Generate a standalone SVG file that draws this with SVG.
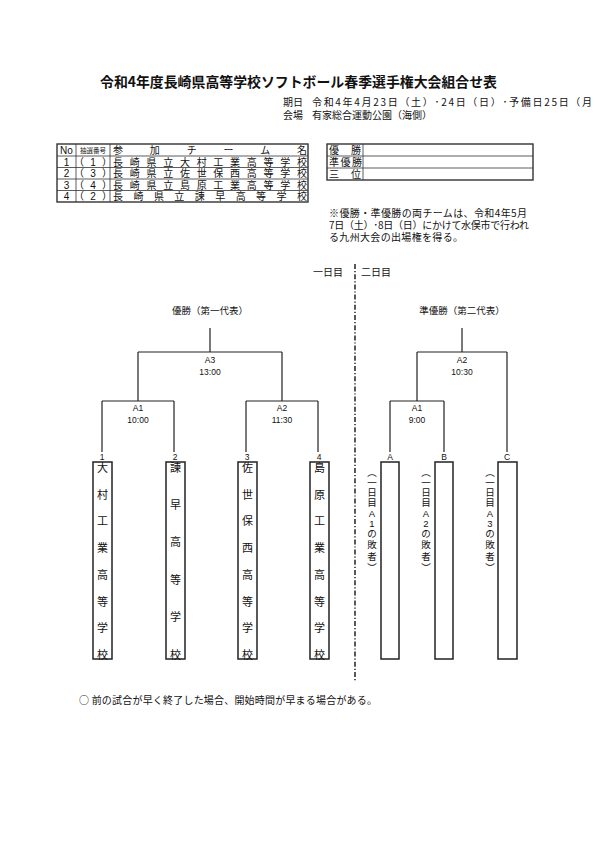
<svg xmlns="http://www.w3.org/2000/svg" width="595" height="842" viewBox="0 0 595 842">
<style>
text{font-family:"Liberation Sans","Noto Sans CJK JP",sans-serif;fill:#111}
.j{font-family:"Noto Sans CJK JP",sans-serif}
.title{font-size:14.2px;font-weight:bold}
.hd{font-size:10px}
.t{font-size:10px}
.sm{font-size:6.5px}
.lb{font-size:9.5px}
.tm{font-size:8.5px}
.vc{font-size:11px}
.vs{font-size:9.5px}
.m{text-anchor:middle}
.ln{stroke:#222;stroke-width:1.2;fill:none}
.bx{stroke:#222;stroke-width:1.5;fill:#fff}
.tb{stroke:#333;stroke-width:0.8;fill:none}
.tbo{stroke:#333;stroke-width:1.4;fill:none}
</style>
<rect width="595" height="842" fill="#fff"/>
<g id="header">
<text class="title j" x="100" y="87" textLength="397" lengthAdjust="spacingAndGlyphs">令和4年度長崎県高等学校ソフトボール春季選手権大会組合せ表</text>
<text class="hd j" x="283" y="106">期日</text>
<text class="hd j" x="312" y="106" textLength="280" lengthAdjust="spacing">令和4年4月23日（土）･24日（日）･予備日25日（月</text>
<text class="hd j" x="283" y="119">会場</text>
<text class="hd j" x="312" y="119">有家総合運動公園（海側）</text>
</g>
<g id="entry-table">
<rect class="tbo" x="57" y="144" width="251" height="58"/>
<path class="tb" d="M57 156H308M57 167.5H308M57 179H308M57 190.5H308M76 144V202M110 144V202"/>
<text class="t m" x="66.5" y="154">No</text>
<text class="sm j m" x="93" y="153">抽選番号</text>
<text class="t j" x="113" y="154" textLength="194" lengthAdjust="spacing">参加チーム名</text>
<g class="t j m">
<text x="79" y="165.5">（</text><text x="93" y="165.5">1</text><text x="107" y="165.5">）</text>
<text x="79" y="177">（</text><text x="93" y="177">3</text><text x="107" y="177">）</text>
<text x="79" y="188.5">（</text><text x="93" y="188.5">4</text><text x="107" y="188.5">）</text>
<text x="79" y="200">（</text><text x="93" y="200">2</text><text x="107" y="200">）</text>
</g>
<text class="t m" x="66.5" y="165.5">1</text>
<text class="t m" x="66.5" y="177">2</text>
<text class="t m" x="66.5" y="188.5">3</text>
<text class="t m" x="66.5" y="200">4</text>
<text class="t j" x="113" y="165.5" textLength="194" lengthAdjust="spacing">長崎県立大村工業高等学校</text>
<text class="t j" x="113" y="177" textLength="194" lengthAdjust="spacing">長崎県立佐世保西高等学校</text>
<text class="t j" x="113" y="188.5" textLength="194" lengthAdjust="spacing">長崎県立島原工業高等学校</text>
<text class="t j" x="113" y="200" textLength="194" lengthAdjust="spacing">長崎県立諫早高等学校</text>
</g>
<g id="result-table">
<rect class="tbo" x="327" y="144" width="206" height="36"/>
<path class="tb" d="M327 156H533M327 168H533M363 144V180"/>
<text class="t j" x="329" y="154" textLength="32" lengthAdjust="spacing">優勝</text>
<text class="t j" x="329" y="166" textLength="33" lengthAdjust="spacing">準優勝</text>
<text class="t j" x="329" y="178" textLength="32" lengthAdjust="spacing">三位</text>
</g>
<g id="note">
<text class="hd j" x="329" y="217" textLength="198" lengthAdjust="spacing">※優勝・準優勝の両チームは、令和4年5月</text>
<text class="hd j" x="329" y="229" textLength="200" lengthAdjust="spacing">7日（土）･8日（日）にかけて水俣市で行われ</text>
<text class="hd j" x="329" y="241" textLength="134" lengthAdjust="spacing">る九州大会の出場権を得る。</text>
</g>
<g id="day-divider">
<path d="M355 264V682" stroke="#222" stroke-width="1.5" stroke-dasharray="5 2 1.2 2" fill="none"/>
<text class="hd j" x="343" y="276" text-anchor="end">一日目</text>
<text class="hd j" x="361" y="276">二日目</text>
</g>
<g id="connectors">
<path class="ln" d="M210 328V352M138 352H282M138 352V401M282 352V401M102 401H174M246 401H318M102 401V452M174 401V452M246 401V452M318 401V452"/>
<path class="ln" d="M462 328V352M417 352H507M417 352V401M507 352V452M390 401H444M390 401V452M444 401V452"/>
</g>
<g id="final-1">
<text class="lb j m" x="210" y="314">優勝（第一代表）</text>
<text class="tm m" x="210" y="363">A3</text><text class="tm m" x="210" y="375">13:00</text>
</g>
<g id="match-a1">
<text class="tm m" x="138" y="411">A1</text><text class="tm m" x="138" y="423">10:00</text>
</g>
<g id="match-a2">
<text class="tm m" x="282" y="411">A2</text><text class="tm m" x="282" y="423">11:30</text>
</g>
<g id="final-2">
<text class="lb j m" x="462" y="314">準優勝（第二代表）</text>
<text class="tm m" x="462" y="363">A2</text><text class="tm m" x="462" y="375">10:30</text>
</g>
<g id="match-b1">
<text class="tm m" x="417" y="411">A1</text><text class="tm m" x="417" y="423">9:00</text>
</g>
<g id="team-1">
<text class="tm m" x="102" y="460">1</text>
<rect class="bx" x="93" y="462" width="19" height="197"/>
<g class="vc j m">
<text x="102.5" y="472">大</text><text x="102.5" y="499">村</text><text x="102.5" y="525">工</text><text x="102.5" y="552">業</text><text x="102.5" y="579">高</text><text x="102.5" y="606">等</text><text x="102.5" y="632">学</text><text x="102.5" y="659">校</text>
</g>
</g>
<g id="team-2">
<text class="tm m" x="175" y="460">2</text>
<rect class="bx" x="166" y="462" width="19" height="197"/>
<g class="vc j m">
<text x="175.5" y="472">諫</text><text x="175.5" y="509">早</text><text x="175.5" y="546">高</text><text x="175.5" y="584">等</text><text x="175.5" y="621">学</text><text x="175.5" y="659">校</text>
</g>
</g>
<g id="team-3">
<text class="tm m" x="247" y="460">3</text>
<rect class="bx" x="238" y="462" width="19" height="197"/>
<g class="vc j m">
<text x="247.5" y="472">佐</text><text x="247.5" y="499">世</text><text x="247.5" y="525">保</text><text x="247.5" y="552">西</text><text x="247.5" y="579">高</text><text x="247.5" y="606">等</text><text x="247.5" y="632">学</text><text x="247.5" y="659">校</text>
</g>
</g>
<g id="team-4">
<text class="tm m" x="319" y="460">4</text>
<rect class="bx" x="310" y="462" width="19" height="197"/>
<g class="vc j m">
<text x="319.5" y="472">島</text><text x="319.5" y="499">原</text><text x="319.5" y="525">工</text><text x="319.5" y="552">業</text><text x="319.5" y="579">高</text><text x="319.5" y="606">等</text><text x="319.5" y="632">学</text><text x="319.5" y="659">校</text>
</g>
</g>
<g id="slot-a">
<text class="tm m" x="390" y="460">A</text>
<rect class="bx" x="381" y="462" width="18" height="197"/>
<g class="vs j m">
<text x="372" y="476">︵</text><text x="372" y="486">一</text><text x="372" y="496">日</text><text x="372" y="506">目</text><text x="372" y="517">A</text><text x="372" y="527">1</text><text x="372" y="537">の</text><text x="372" y="548">敗</text><text x="372" y="560">者</text><text x="372" y="571">︶</text>
</g>
</g>
<g id="slot-b">
<text class="tm m" x="444" y="460">B</text>
<rect class="bx" x="435" y="462" width="18" height="197"/>
<g class="vs j m">
<text x="426" y="476">︵</text><text x="426" y="486">一</text><text x="426" y="496">日</text><text x="426" y="506">目</text><text x="426" y="517">A</text><text x="426" y="527">2</text><text x="426" y="537">の</text><text x="426" y="548">敗</text><text x="426" y="560">者</text><text x="426" y="571">︶</text>
</g>
</g>
<g id="slot-c">
<text class="tm m" x="507" y="460">C</text>
<rect class="bx" x="498" y="462" width="19" height="197"/>
<g class="vs j m">
<text x="490" y="476">︵</text><text x="490" y="486">一</text><text x="490" y="496">日</text><text x="490" y="506">目</text><text x="490" y="517">A</text><text x="490" y="527">3</text><text x="490" y="537">の</text><text x="490" y="548">敗</text><text x="490" y="560">者</text><text x="490" y="571">︶</text>
</g>
</g>
<g id="footer">
<text class="hd j" x="79" y="704" textLength="298" lengthAdjust="spacing">○ 前の試合が早く終了した場合、開始時間が早まる場合がある。</text>
</g>
</svg>
